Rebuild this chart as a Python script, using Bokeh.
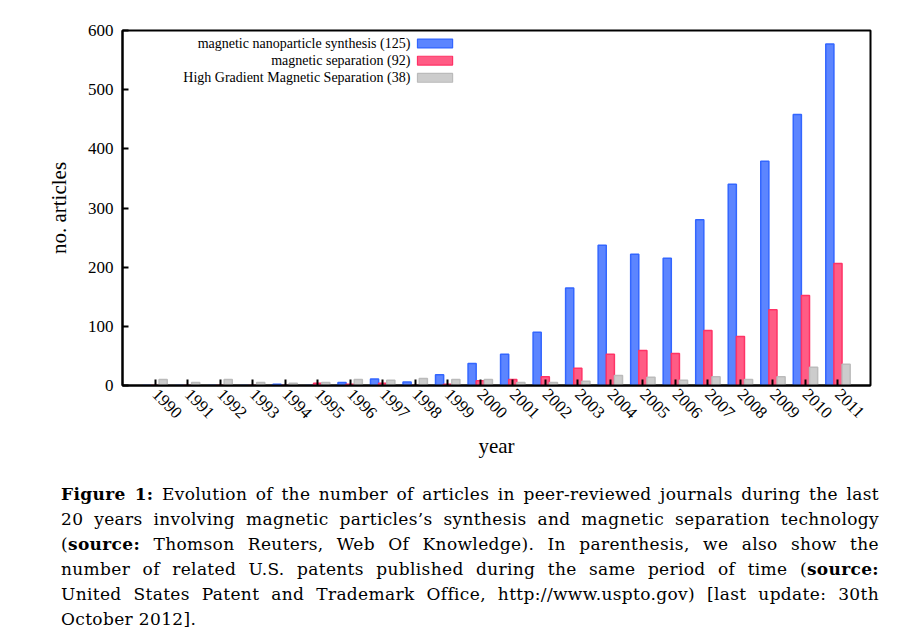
import math
from bokeh.plotting import figure
from bokeh.models import (ColumnDataSource, Range1d, FixedTicker, Label,
                          BoxAnnotation, Div)
from bokeh.layouts import column
from bokeh.transform import dodge
from bokeh.embed import file_html
from bokeh.resources import INLINE

# ---- data ----
years = list(range(1990, 2012))
nanoparticle_synthesis = [0, 0, 0, 0, 2, 0, 5, 11, 6, 18, 37, 53, 90, 165,
                          237, 222, 215, 280, 340, 379, 458, 577]
magnetic_separation = [0, 0, 0, 0, 0, 4, 2, 4, 0, 2, 8, 10, 15, 29,
                       53, 59, 54, 93, 83, 128, 152, 206]
hgms = [10, 5, 10, 5, 4, 5, 10, 9, 12, 10, 10, 5, 5, 7,
        17, 14, 9, 15, 10, 15, 31, 36]
series_labels = ["magnetic nanoparticle synthesis (125)",
                 "magnetic separation (92)",
                 "High Gradient Magnetic Separation (38)"]
y_ticks = [0, 100, 200, 300, 400, 500, 600]

FONT = "Liberation Serif"
fills = ["#5c85ff", "#ff5c85", "#cccccc"]
lines = ["#3366ff", "#ff3366", "#bbbbbb"]

src = ColumnDataSource(dict(year=years, a=nanoparticle_synthesis,
                            b=magnetic_separation, c=hgms))

FIG_H = 476
p = figure(width=912, height=FIG_H, output_backend="svg", toolbar_location=None,
           x_range=Range1d(1989, 2012), y_range=Range1d(0, 600),
           min_border_left=122, min_border_right=42, min_border_top=30,
           min_border_bottom=FIG_H - 385)

w = 0.25
for col, off, fc, lc in zip(["a", "b", "c"], [-0.25, 0.0, 0.25], fills, lines):
    p.vbar(x=dodge("year", off, range=p.x_range), top=col, width=w, bottom=0,
           source=src, fill_color=fc, line_color=lc, line_width=1.5)

p.xgrid.visible = False
p.ygrid.visible = False
p.outline_line_color = "black"
p.outline_line_width = 2
p.outline_line_alpha = 1

for ax in (p.xaxis[0], p.yaxis[0]):
    ax.axis_line_color = "black"
    ax.axis_line_width = 2
    ax.major_tick_in = 6
    ax.major_tick_out = 0
    ax.major_tick_line_width = 2
    ax.major_tick_line_color = "black"
    ax.minor_tick_line_color = None
    ax.major_label_text_font = FONT
    ax.major_label_text_font_size = "17px"
    ax.major_label_text_color = "black"
    ax.axis_label_text_font = FONT
    ax.axis_label_text_font_size = "21px"
    ax.axis_label_text_font_style = "normal"
    ax.axis_label_text_color = "black"

p.xaxis.ticker = FixedTicker(ticks=years)
p.xaxis.major_label_orientation = -math.pi / 4
p.xaxis.axis_label = "year"
p.xaxis.axis_label_standoff = 8
p.xaxis.major_label_standoff = 6
p.yaxis.ticker = FixedTicker(ticks=y_ticks)
p.yaxis.axis_label = "no. articles"
p.yaxis.axis_label_standoff = 14
p.yaxis.major_label_standoff = 9

# ---- key (gnuplot style: text left, swatch right) ----
key_x_text = 1997.85
key_x0, key_x1 = 1998.07, 1999.15
key_y = [578, 549, 520]
for lbl, ky, fc, lc in zip(series_labels, key_y, fills, lines):
    p.add_layout(Label(x=key_x_text, y=ky, text=lbl, text_align="right",
                       text_baseline="middle", text_font=FONT,
                       text_font_size="14px", text_color="black"))
    p.add_layout(BoxAnnotation(left=key_x0, right=key_x1, bottom=ky - 7.5,
                               top=ky + 7.5, fill_color=fc, fill_alpha=1,
                               line_color=lc, line_width=1.2, line_alpha=1))

caption_lines = [
    "<b>Figure 1:</b> Evolution of the number of articles in peer-reviewed journals during the last",
    "20 years involving magnetic particles’s synthesis and magnetic separation technology",
    "(<b>source:</b> Thomson Reuters, Web Of Knowledge). In parenthesis, we also show the",
    "number of related U.S. patents published during the same period of time (<b>source:</b>",
    "United States Patent and Trademark Office, http://www.uspto.gov) [last update: 30th",
]
last_line = "October 2012]."
line_style = "text-align:justify;text-align-last:justify;white-space:normal;"
html = "".join(f'<div style="{line_style}">{t}</div>' for t in caption_lines)
html += f'<div style="text-align:left;">{last_line}</div>'
html = (f'<div style="width:818px;margin-left:56px;padding-top:1px;'
        f'font-family:\'DejaVu Serif\';font-size:17px;letter-spacing:0.35px;'
        f'line-height:25px;color:#000;">'
        f'{html}</div>')
cap = Div(text=html, width=912, height=156)

layout = column(p, cap, spacing=0)
open("out.html", "w").write(file_html(layout, INLINE))
